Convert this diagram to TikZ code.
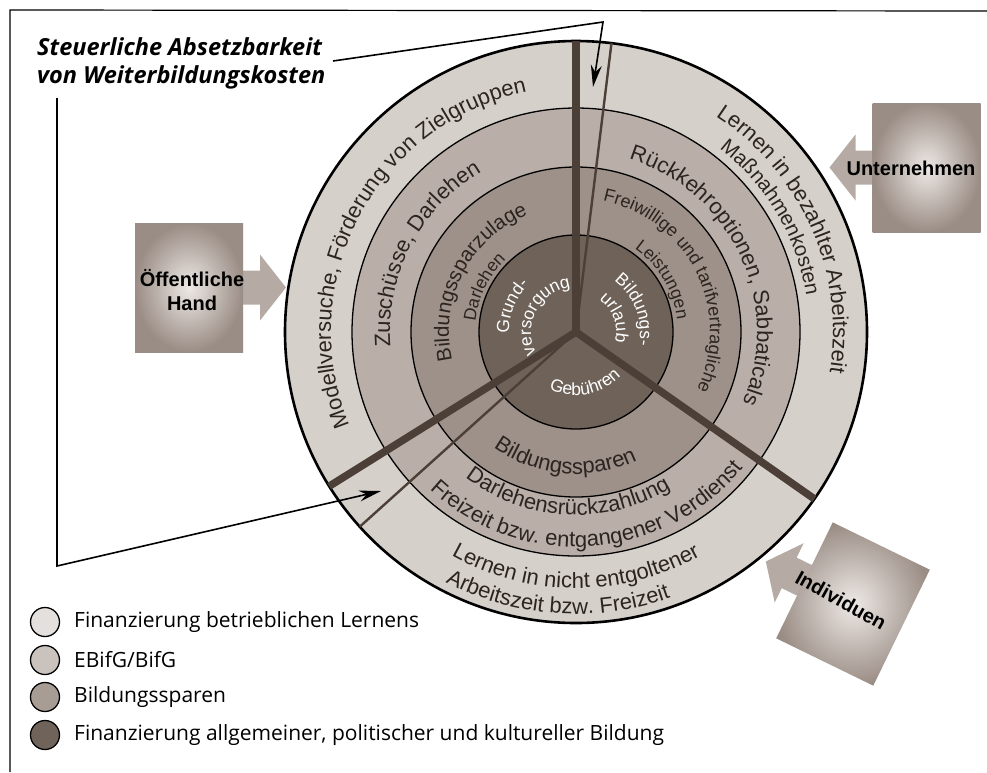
\documentclass[tikz,border=0pt]{standalone}
\usepackage{fontspec}
\setmainfont{Liberation Sans}
\newfontfamily\ringfont{Liberation Sans}
\newfontfamily\legfont{Open Sans}
\usetikzlibrary{arrows.meta,decorations.text}

\definecolor{ringA}{HTML}{D6D0CB}
\definecolor{ringB}{HTML}{B9AFA8}
\definecolor{ringC}{HTML}{9D9189}
\definecolor{ringD}{HTML}{6E6259}
\definecolor{spokecol}{HTML}{4C3F37}
\definecolor{inkcol}{HTML}{2C2420}
\definecolor{legA}{HTML}{E3E0DD}
\definecolor{legB}{HTML}{C9C2BD}
\definecolor{legC}{HTML}{A89D95}
\definecolor{legD}{HTML}{706359}
\definecolor{boxlight}{HTML}{EEE9E6}
\definecolor{boxdark}{HTML}{9A8D85}
\definecolor{arrowgray}{HTML}{B6ABA4}

% fonts for the ring texts
\newcommand\rfA{\ringfont\fontsize{22}{22}\selectfont}
\newcommand\rfB{\ringfont\fontsize{20.5}{20.5}\selectfont}
\newcommand\rfC{\ringfont\fontsize{18}{18}\selectfont}
\newcommand\rfD{\ringfont\fontsize{17.5}{17.5}\selectfont}
\newcommand\rfW{\ringfont\fontsize{17.5}{17.5}\selectfont}
\newcommand\titlefont{\legfont\bfseries\itshape\fontsize{23.5}{23.5}\selectfont}
\newcommand\legendfont{\legfont\fontsize{21}{21}\selectfont}

\tikzset{
  ringtext/.style={decorate, decoration={text along path, text align=center, text color=inkcol, text={#1}}},
  whitetext/.style={decorate, decoration={text along path, text align=center, text color=white, text={#1}}},
  spoke/.style={draw=spokecol, line width=7.5pt},
  thinspoke/.style={draw=spokecol, line width=2.4pt},
  ringline/.style={draw=black, line width=1.3pt},
  legdot/.style={draw=black, line width=1.3pt, circle, minimum size=29pt, inner sep=0pt},
  legtext/.style={anchor=west, inner sep=0pt, font=\legendfont},
  boxlabel/.style={font=\ringfont\bfseries\fontsize{20}{24}\selectfont, align=center, inner sep=0pt},
  pfeil/.style={draw=black, line width=1.6pt, -{Stealth[length=22pt,width=11pt]}},
  arrowbox/.pic={
    \fill[arrowgray] (50,-17) -- (71,-17) -- (71,-33) -- (97,0) -- (71,33) -- (71,17) -- (50,17) -- cycle;
    \shade[inner color=boxlight, outer color=boxdark] (-54,-64.5) rectangle (54,64.5);
  }
}

\begin{document}
\begin{tikzpicture}[x=1pt,y=1pt]
  \useasboundingbox (0,0) rectangle (987,-772);
  \fill[white] (0,0) rectangle (987,-772);
  \draw[line width=1.2pt] (10,-772) -- (10,-10) -- (987,-11);

  % rings
  \coordinate (C) at (576,-332);
  \fill[ringA] (C) circle (291);
  \fill[ringB] (C) circle (224);
  \fill[ringC] (C) circle (165);
  \fill[ringD] (C) circle (97);
  \draw[ringline] (C) circle (224);
  \draw[ringline] (C) circle (165);
  \draw[ringline] (C) circle (97);
  \draw[line width=2.6pt] (C) circle (291);

  % spokes
  \draw[spoke] (C) -- ++(90:291);
  \draw[spoke] (C) -- ++(212:291);
  \draw[spoke] (C) -- ++(325:291);
  \draw[thinspoke] (C) -- ++(83:291);
  \draw[thinspoke] (C) -- ++(222:291);

  % texts, clockwise (tops outward)
  \path[shift={(C)}, ringtext={|\rfA|Modellversuche, Förderung von Zielgruppen}] (235:245) arc[start angle=235, end angle=69, radius=245];
  \path[shift={(C)}, ringtext={|\rfA|Lernen in bezahlter Arbeitszeit}] (100:257) arc[start angle=100, end angle=-52, radius=257];
  \path[shift={(C)}, ringtext={|\rfB|Maßnahmenkosten}] (92:233) arc[start angle=92, end angle=-31, radius=233];
  \path[shift={(C)}, ringtext={|\rfA|Zuschüsse, Darlehen}] (230:186) arc[start angle=230, end angle=75, radius=186];
  \path[shift={(C)}, ringtext={|\rfA|Rückkehroptionen, Sabbaticals}] (110:181) arc[start angle=110, end angle=-60, radius=181];
  \path[shift={(C)}, ringtext={|\rfB|Bildungssparzulage}] (240:127) arc[start angle=240, end angle=65, radius=127];
  \path[shift={(C)}, ringtext={|\rfD|Darlehen}] (230:101) arc[start angle=230, end angle=78, radius=101];
  \path[shift={(C)}, ringtext={|\rfC|Freiwillige und tarifvertragliche}] (120:134) arc[start angle=120, end angle=-67, radius=134];
  \path[shift={(C)}, ringtext={|\rfD|Leistungen}] (110:102) arc[start angle=110, end angle=-48, radius=102];
  \path[shift={(C)}, whitetext={|\rfW|Grund-}] (240:67) arc[start angle=240, end angle=76, radius=67];
  \path[shift={(C)}, whitetext={|\rfW|versorgung}] (250:45) arc[start angle=250, end angle=55, radius=45];
  \path[shift={(C)}, whitetext={|\rfW|Bildungs-}] (110:64) arc[start angle=110, end angle=-68, radius=64];
  \path[shift={(C)}, whitetext={|\rfW|urlaub}] (110:40) arc[start angle=110, end angle=-70, radius=40];

  % texts, counterclockwise (tops inward)
  \path[shift={(C)}, whitetext={|\rfW|Gebühren}] (200:63) arc[start angle=200, end angle=360, radius=63];
  \path[shift={(C)}, ringtext={|\rfA|Bildungssparen}] (185:142) arc[start angle=185, end angle=345, radius=142];
  \path[shift={(C)}, ringtext={|\rfA|Darlehensrückzahlung}] (180:183) arc[start angle=180, end angle=354, radius=183];
  \path[shift={(C)}, ringtext={|\rfA|Freizeit bzw. entgangener Verdienst}] (180:215) arc[start angle=180, end angle=368, radius=215];
  \path[shift={(C)}, ringtext={|\rfA|Lernen in nicht entgoltener}] (190:256) arc[start angle=190, end angle=350, radius=256];
  \path[shift={(C)}, ringtext={|\rfA|Arbeitszeit bzw. Freizeit}] (196:282) arc[start angle=196, end angle=336, radius=282];

  % actors
  \pic at (189,-287.5) {arrowbox};
  \pic[rotate=180] at (926.5,-167.5) {arrowbox};
  \pic[rotate=154] at (853,-604) {arrowbox};
  \node[boxlabel] (oeff) at (192,-290) {Öffentliche\\Hand};
  \node[boxlabel] (unter) at (911,-168) {Unternehmen};
  \node[boxlabel, rotate=-29] (indiv) at (841,-600) {Individuen};

  % tax deduction
  \node[anchor=base west, inner sep=0pt, font=\titlefont] (titelA) at (37,-55) {Steuerliche Absetzbarkeit};
  \node[anchor=base west, inner sep=0pt, font=\titlefont] (titelB) at (37,-83) {von Weiterbildungskosten};
  \coordinate (startA) at (333,-61);
  \coordinate (knickA) at (603,-22);
  \coordinate (zielA) at (593,-87);
  \coordinate (startB) at (57,-98);
  \coordinate (knickB) at (57,-566);
  \coordinate (zielB) at (381,-491);
  \draw[pfeil] (startA) -- (knickA) -- (zielA);
  \draw[pfeil] (startB) -- (knickB) -- (zielB);

  % legend
  \node[legdot, fill=legA] (dotA) at (45,-622) {};
  \node[legdot, fill=legB] (dotB) at (45,-660) {};
  \node[legdot, fill=legC] (dotC) at (45,-697) {};
  \node[legdot, fill=legD] (dotD) at (45,-735) {};
  \node[legtext] (legA) at (74,-622) {Finanzierung betrieblichen Lernens};
  \node[legtext] (legB) at (74,-660) {EBifG/BifG};
  \node[legtext] (legC) at (74,-697) {Bildungssparen};
  \node[legtext] (legD) at (74,-735) {Finanzierung allgemeiner, politischer und kultureller Bildung};
\end{tikzpicture}
\end{document}
